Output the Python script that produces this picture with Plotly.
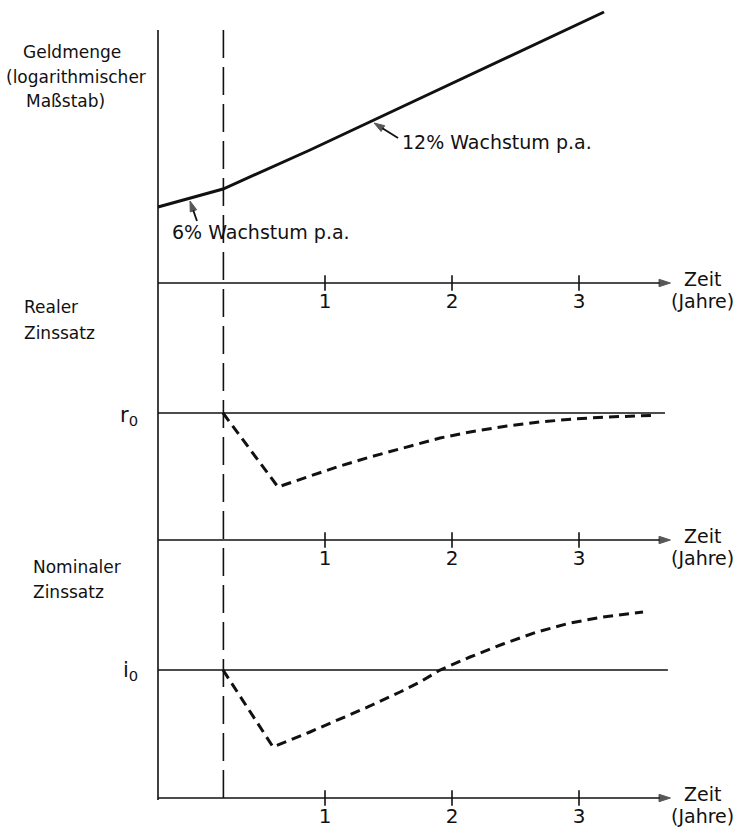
import plotly.graph_objects as go

# ---------------- data ----------------
shock_t = 0.2            # time of the monetary shock (dashed line)
t_origin = -0.315        # where the vertical axis sits
t_end = 3.72             # end of the time axes (arrow tip)
tick_vals = [1, 2, 3]
tick_text = ["1", "2", "3"]

# Panel 1: money stock (log scale, arbitrary units)
t_money = [-0.315, 0.197, 0.882, 1.386, 3.197]
log_money = [0.76, 0.94, 1.33, 1.63, 2.71]

# Panel 2: real interest rate, deviation from r0
t_real = [0.197, 0.630, 0.882, 1.118, 1.354, 1.591, 1.906, 2.142, 2.433,
          2.693, 2.953, 3.220, 3.575]
real_rate = [0.0, -0.74, -0.63, -0.53, -0.44, -0.36, -0.25, -0.19, -0.13,
             -0.09, -0.06, -0.04, -0.025]
r0_line_t = [-0.315, 3.677]
r0_line_v = [0.0, 0.0]

# Panel 3: nominal interest rate, deviation from i0
t_nom = [0.197, 0.591, 0.882, 1.118, 1.354, 1.591, 1.748, 1.906, 2.142, 2.402,
         2.669, 2.929, 3.189, 3.504]
nom_rate = [0.0, -0.77, -0.62, -0.49, -0.36, -0.22, -0.12, 0.0, 0.13, 0.26,
            0.38, 0.47, 0.53, 0.58]
i0_line_t = [-0.315, 3.70]
i0_line_v = [0.0, 0.0]

# pointer arrows of the growth labels (tail -> tip, in panel-1 coordinates)
arrow6_t = [-0.008, -0.063]
arrow6_v = [0.62, 0.82]
arrow12_t = [1.575, 1.386]
arrow12_v = [1.45, 1.60]

INK = "#111111"
FONT = "DejaVu Sans"
W, H = 745, 828
XR = [-198 / 127, (W - 198) / 127]

def py(p):
    return 1 - p / H

fig = go.Figure()

def arrow_trace(xs, ys, xa, ya, width, size):
    return go.Scatter(x=xs, y=ys, mode="lines+markers", xaxis=xa, yaxis=ya,
                      line=dict(color=INK, width=width),
                      marker=dict(symbol=["circle", "arrow"], size=[0, size],
                                  angleref="previous", color=INK,
                                  line=dict(width=1, color=INK)),
                      showlegend=False, hoverinfo="skip", cliponaxis=False)

# panel 1
fig.add_trace(go.Scatter(x=t_money, y=log_money, mode="lines",
                         line=dict(color=INK, width=3), xaxis="x", yaxis="y",
                         showlegend=False, hoverinfo="skip"))
fig.add_trace(arrow_trace(arrow6_t, arrow6_v, "x", "y", 1.8, 11))
fig.add_trace(arrow_trace(arrow12_t, arrow12_v, "x", "y", 1.8, 11))
# panel 2
fig.add_trace(go.Scatter(x=r0_line_t, y=r0_line_v, mode="lines",
                         line=dict(color=INK, width=1.6), xaxis="x2", yaxis="y2",
                         showlegend=False, hoverinfo="skip"))
fig.add_trace(go.Scatter(x=t_real, y=real_rate, mode="lines",
                         line=dict(color=INK, width=3, dash="10px,6px"),
                         xaxis="x2", yaxis="y2", showlegend=False, hoverinfo="skip"))
# panel 3
fig.add_trace(go.Scatter(x=i0_line_t, y=i0_line_v, mode="lines",
                         line=dict(color=INK, width=1.6), xaxis="x3", yaxis="y3",
                         showlegend=False, hoverinfo="skip"))
fig.add_trace(go.Scatter(x=t_nom, y=nom_rate, mode="lines",
                         line=dict(color=INK, width=3, dash="10px,6px"),
                         xaxis="x3", yaxis="y3", showlegend=False, hoverinfo="skip"))

# axes layout: (suffix, time-axis pixel row, top pixel row, time-axis level, top level)
# 100 px per unit; each domain extends 4 px below its time axis so the axis line is not clipped
panels = [
    ("", 283, 0, 0.0, 2.83),
    ("2", 540, 283, -1.27, 1.30),
    ("3", 798, 540, -1.28, 1.30),
]
PAD = 4
for k, axis_px, top_px, base, top in panels:
    xa, ya = "x" + k, "y" + k
    fig.layout["xaxis" + k] = dict(
        domain=[0, 1], range=XR, anchor=ya, showgrid=False, zeroline=False,
        showline=False, tickvals=tick_vals, ticktext=tick_text,
        ticks="", tickfont=dict(family=FONT, size=20, color=INK), fixedrange=True)
    fig.layout["yaxis" + k] = dict(
        domain=[py(axis_px + PAD), py(top_px)], range=[base - PAD / 100, top],
        anchor=xa, visible=False, fixedrange=True)
    # time axis with arrow head
    fig.add_trace(arrow_trace([t_origin, t_end], [base, base], xa, ya, 1.6, 12))
    # tick marks crossing the time axis
    fig.add_trace(go.Scatter(x=tick_vals, y=[base] * len(tick_vals), mode="markers",
                             marker=dict(symbol="line-ns", size=11,
                                         line=dict(color=INK, width=1.6)),
                             xaxis=xa, yaxis=ya, showlegend=False, hoverinfo="skip",
                             cliponaxis=False))

shapes = [
    # vertical axis
    dict(type="line", xref="x", yref="paper", x0=t_origin, x1=t_origin,
         y0=py(30), y1=py(800), line=dict(color=INK, width=1.6)),
    # dashed shock line
    dict(type="line", xref="x", yref="paper", x0=shock_t, x1=shock_t,
         y0=py(30), y1=py(800), line=dict(color=INK, width=1.6, dash="28px,9px")),
]

annotations = []
# "Zeit (Jahre)" labels
for base in [283, 540, 798]:
    annotations.append(dict(x=702 / W, y=py(base - 4), xref="paper", yref="paper",
                            text="Zeit", showarrow=False, xanchor="center",
                            yanchor="middle", font=dict(family=FONT, size=19, color=INK)))
    annotations.append(dict(x=702 / W, y=py(base + 18), xref="paper", yref="paper",
                            text="(Jahre)", showarrow=False, xanchor="center",
                            yanchor="middle", font=dict(family=FONT, size=19, color=INK)))

def lab(text, x, y, size=17, anchor="left"):
    annotations.append(dict(x=x / W, y=py(y), xref="paper", yref="paper", text=text,
                            showarrow=False, xanchor=anchor, yanchor="middle",
                            font=dict(family=FONT, size=size, color=INK)))

lab("Geldmenge", 21, 52)
lab("(logarithmischer", 4, 77)
lab("Maßstab)", 24, 101)
lab("Realer", 22, 307)
lab("Zinssatz", 22, 333)
lab("Nominaler", 31, 567)
lab("Zinssatz", 31, 592)
lab("r<sub>0</sub>", 140, 416, size=21, anchor="right")
lab("i<sub>0</sub>", 140, 671, size=21, anchor="right")

annotations.append(dict(x=-0.22, y=0.51, xref="x", yref="y", text="6% Wachstum p.a.",
                        showarrow=False, xanchor="left", yanchor="middle",
                        font=dict(family=FONT, size=19, color=INK)))
annotations.append(dict(x=1.59, y=1.41, xref="x", yref="y", text="12% Wachstum p.a.",
                        showarrow=False, xanchor="left", yanchor="middle",
                        font=dict(family=FONT, size=19, color=INK)))

fig.update_layout(width=W, height=H, margin=dict(l=0, r=0, t=0, b=0),
                  paper_bgcolor="white", plot_bgcolor="rgba(0,0,0,0)",
                  shapes=shapes, annotations=annotations, showlegend=False)

fig.write_html("out.html", config={"displayModeBar": False},
               post_script="document.body.style.margin='0px';"
                           "document.body.style.overflow='hidden';")
